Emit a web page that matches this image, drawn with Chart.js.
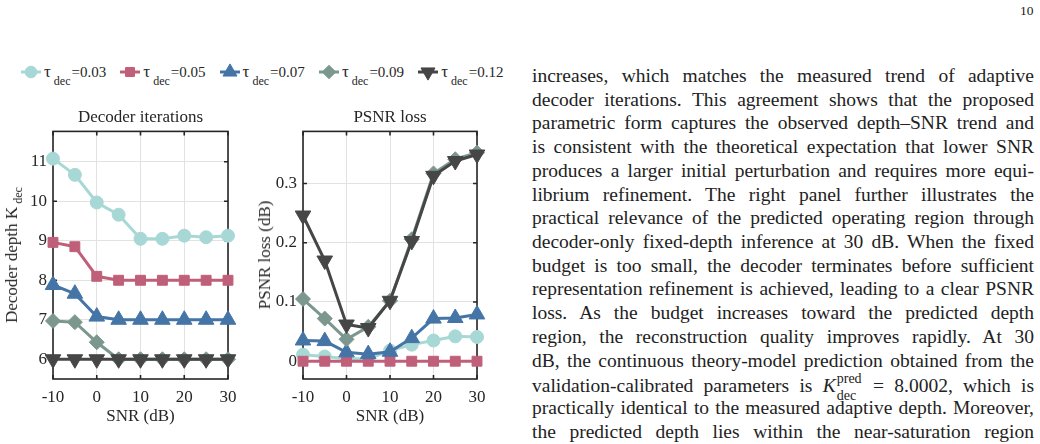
<!DOCTYPE html>
<html>
<head>
<meta charset="utf-8">
<script src="https://cdn.jsdelivr.net/npm/chart.js@4.4.1/dist/chart.umd.min.js"></script>
<style>
  body { margin: 0; width: 1040px; height: 444px; background: #fff; position: relative; overflow: hidden;
         font-family: "Liberation Serif", "Times New Roman", serif; color: #1a1a1a; }
  .panel { position: absolute; top: 100px; height: 330px; }
  #leftBox { left: 0; width: 250px; }
  #rightBox { left: 250px; width: 260px; }
  .ylab { position: absolute; font-size: 17px; white-space: nowrap; color: #262626;
          transform: translate(-50%, -50%) rotate(-90deg); }
  .ylab sub { font-size: 12px; vertical-align: -5px; margin-left: 3px; }
  .item { position: absolute; top: 63px; height: 18px; line-height: 18px; font-size: 15px;
          white-space: nowrap; color: #262626; }
  .item canvas { vertical-align: top; margin-right: 3px; }
  .item .tau { font-size: 17px; }
  .item .sub { position: relative; top: 8px; font-size: 12px; margin-left: 3px; margin-right: 1px; }
  #pageno { position: absolute; left: 1020px; top: 3px; font-size: 13.5px; }
  #text { position: absolute; left: 532px; top: 64px; width: 502px; font-size: 19.5px; line-height: 23.73px;
          color: #222; }
  .line { white-space: nowrap; height: 23.73px; }
  .ss { display: inline-block; position: relative; width: 27px; height: 1em; }
  .ss span { position: absolute; left: 1px; font-size: 14px; line-height: 16px; }
  .ss .sup { top: -1px; }
  .ss .sub { top: 16px; }
</style>
</head>
<body>
<div id="pageno">10</div>
<div id="legend"></div>

<div class="panel" id="leftBox"><canvas id="depthChart" width="250" height="330"></canvas></div>
<div class="panel" id="rightBox"><canvas id="lossChart" width="260" height="330"></canvas></div>
<div class="ylab" style="left:14px; top:255px;">Decoder depth K<sub>dec</sub></div>
<div class="ylab" style="left:265px; top:255px;">PSNR loss (dB)</div>

<div id="text">
<div class="line"><span>increases, which matches the measured trend of adaptive</span></div>
<div class="line"><span>decoder iterations. This agreement shows that the proposed</span></div>
<div class="line"><span>parametric form captures the observed depth–SNR trend and</span></div>
<div class="line"><span>is consistent with the theoretical expectation that lower SNR</span></div>
<div class="line"><span>produces a larger initial perturbation and requires more equi-</span></div>
<div class="line"><span>librium refinement. The right panel further illustrates the</span></div>
<div class="line"><span>practical relevance of the predicted operating region through</span></div>
<div class="line"><span>decoder-only fixed-depth inference at 30 dB. When the fixed</span></div>
<div class="line"><span>budget is too small, the decoder terminates before sufficient</span></div>
<div class="line"><span>representation refinement is achieved, leading to a clear PSNR</span></div>
<div class="line"><span>loss. As the budget increases toward the predicted depth</span></div>
<div class="line"><span>region, the reconstruction quality improves rapidly. At 30</span></div>
<div class="line"><span>dB, the continuous theory-model prediction obtained from the</span></div>
<div class="line"><span>validation-calibrated parameters is <i>K</i><span class="ss"><span class="sup">pred</span><span class="sub">dec</span></span> = 8.0002, which is</span></div>
<div class="line"><span>practically identical to the measured adaptive depth. Moreover,</span></div>
<div class="line"><span>the predicted depth lies within the near-saturation region</span></div>
</div>

<script>
// SNR points (dB) and the five tau_dec settings
const snr = [-10, -5, 0, 5, 10, 15, 20, 25, 30];
const tauLabels = ['0.03', '0.05', '0.07', '0.09', '0.12'];

// decoder depth K_dec (left panel)
const depth003 = [11.08, 10.67, 9.97, 9.66, 9.05, 9.05, 9.13, 9.09, 9.13];
const depth005 = [8.96, 8.85, 8.10, 8.0, 8.0, 8.0, 8.0, 8.0, 8.0];
const depth007 = [7.88, 7.66, 7.08, 7.0, 7.0, 7.0, 7.0, 7.0, 7.0];
const depth009 = [6.97, 6.94, 6.43, 6.0, 6.0, 6.0, 6.0, 6.0, 6.0];
const depth012 = [6.0, 6.0, 6.0, 6.0, 6.0, 6.0, 6.0, 6.0, 6.0];

// PSNR loss in dB (right panel)
const loss003 = [0.011, 0.008, 0.004, 0.004, 0.018, 0.028, 0.035, 0.042, 0.041];
const loss005 = [0, 0, 0, 0, 0, 0, 0, 0, 0];
const loss007 = [0.035, 0.034, 0.015, 0.012, 0.016, 0.039, 0.072, 0.073, 0.079];
const loss009 = [0.105, 0.072, 0.037, 0.058, 0.102, 0.206, 0.317, 0.341, 0.352];
const loss012 = [0.246, 0.170, 0.062, 0.056, 0.102, 0.203, 0.313, 0.338, 0.349];

// tick labels
const xTicks = [-10, 0, 10, 20, 30];
const depthTicks = [6, 7, 8, 9, 10, 11];
const lossTicks = [0, 0.1, 0.2, 0.3];

// styles
const colors = ['#a8d8d5', '#c05f7a', '#4574a6', '#7b978e', '#464646'];
const markers = [
    { style: 'circle', radius: 6.5, rotation: 0 },
    { style: 'rect', radius: 7, rotation: 0 },
    { style: 'triangle', radius: 9, rotation: 0 },
    { style: 'rectRot', radius: 7.5, rotation: 0 },
    { style: 'triangle', radius: 9, rotation: 180 }
];
const inkColor = '#262626';
const serif = 'Liberation Serif';

// inward ticks + box, drawn under the data like matlab does
const boxAxes = {
    id: 'boxAxes',
    beforeDatasetsDraw(chart) {
        const { ctx, chartArea: a, scales } = chart;
        const len = 4;
        ctx.save();
        ctx.strokeStyle = inkColor;
        ctx.lineWidth = 1.6;
        ctx.strokeRect(a.left, a.top, a.right - a.left, a.bottom - a.top);
        ctx.beginPath();
        scales.x.ticks.forEach(t => {
            const px = scales.x.getPixelForValue(t.value);
            ctx.moveTo(px, a.bottom); ctx.lineTo(px, a.bottom - len);
            ctx.moveTo(px, a.top); ctx.lineTo(px, a.top + len);
        });
        scales.y.ticks.forEach(t => {
            const py = scales.y.getPixelForValue(t.value);
            ctx.moveTo(a.left, py); ctx.lineTo(a.left + len, py);
            ctx.moveTo(a.right, py); ctx.lineTo(a.right - len, py);
        });
        ctx.stroke();
        ctx.restore();
    }
};

function makeDatasets(seriesList) {
    return seriesList.map((vals, i) => ({
        label: 'τ dec=' + tauLabels[i],
        data: snr.map((x, k) => ({ x: x, y: vals[k] })),
        borderColor: colors[i],
        backgroundColor: colors[i],
        borderWidth: 3,
        pointStyle: markers[i].style,
        pointRadius: markers[i].radius,
        pointRotation: markers[i].rotation,
        pointBorderWidth: 1,
        pointBackgroundColor: colors[i],
        pointBorderColor: colors[i],
        tension: 0,
        clip: false,
        order: seriesList.length - i
    }));
}

function crearPanel(canvasId, titulo, seriesList, yMin, yMax, yTicks, padRight) {
    const ctx = document.getElementById(canvasId).getContext('2d');
    const font = { family: serif, size: 17 };
    new Chart(ctx, {
        type: 'line',
        data: { datasets: makeDatasets(seriesList) },
        options: {
            responsive: false,
            animation: false,
            devicePixelRatio: 1,
            layout: { padding: { left: 0, right: padRight, top: 0, bottom: 3 } },
            plugins: {
                legend: { display: false },
                tooltip: { enabled: false },
                title: {
                    display: true,
                    text: titulo,
                    fullSize: false,
                    color: inkColor,
                    font: { family: serif, size: 17, weight: 'normal' },
                    padding: { top: 7, bottom: 4 }
                }
            },
            scales: {
                x: {
                    type: 'linear',
                    min: -10,
                    max: 30,
                    afterBuildTicks: s => { s.ticks = xTicks.map(v => ({ value: v })); },
                    afterFit: s => { s.height = 48; },
                    grid: { color: '#e2e2e2', lineWidth: 1, drawTicks: false },
                    border: { display: false },
                    ticks: { padding: 8, color: inkColor, font: font, maxRotation: 0,
                             callback: v => String(v) },
                    title: { display: true, text: 'SNR (dB)', color: inkColor, font: font,
                             padding: { top: 0, bottom: 0 } }
                },
                y: {
                    min: yMin,
                    max: yMax,
                    afterBuildTicks: s => { s.ticks = yTicks.map(v => ({ value: v })); },
                    afterFit: s => { s.width = 53; },
                    grid: { color: '#e2e2e2', lineWidth: 1, drawTicks: false },
                    border: { display: false },
                    ticks: { padding: 6, color: inkColor, font: font,
                             callback: v => String(v) }
                }
            }
        },
        plugins: [boxAxes]
    });
}

crearPanel('depthChart', 'Decoder iterations',
    [depth003, depth005, depth007, depth009, depth012], 5.5, 11.77, depthTicks, 22);
crearPanel('lossChart', 'PSNR loss',
    [loss003, loss005, loss007, loss009, loss012], -0.03, 0.388, lossTicks, 33);

// shared legend across both panels
const legend = document.getElementById('legend');
tauLabels.forEach((tau, i) => {
    const item = document.createElement('div');
    item.className = 'item';
    item.style.left = (21 + i * 99.3) + 'px';
    const c = document.createElement('canvas');
    c.width = 20; c.height = 18;
    item.appendChild(c);
    item.insertAdjacentHTML('beforeend', '<span class="tau">τ</span><span class="sub">dec</span><span>=' + tau + '</span>');
    legend.appendChild(item);

    const g = c.getContext('2d');
    g.strokeStyle = colors[i];
    g.fillStyle = colors[i];
    g.lineWidth = 3;
    g.beginPath(); g.moveTo(0, 9); g.lineTo(20, 9); g.stroke();
    g.lineWidth = 1;
    Chart.helpers.drawPoint(g, {
        pointStyle: markers[i].style,
        radius: markers[i].radius * 0.9,
        rotation: markers[i].rotation,
        borderWidth: 1
    }, 10, 9);
});

// justify each printed line to the column width
document.querySelectorAll('.line').forEach(line => {
    const inner = line.firstElementChild;
    const natural = inner.getBoundingClientRect().width;
    const gaps = (inner.textContent.match(/ /g) || []).length;
    if (gaps) line.style.wordSpacing = ((502 - natural) / gaps) + 'px';
});
</script>
</body>
</html>
